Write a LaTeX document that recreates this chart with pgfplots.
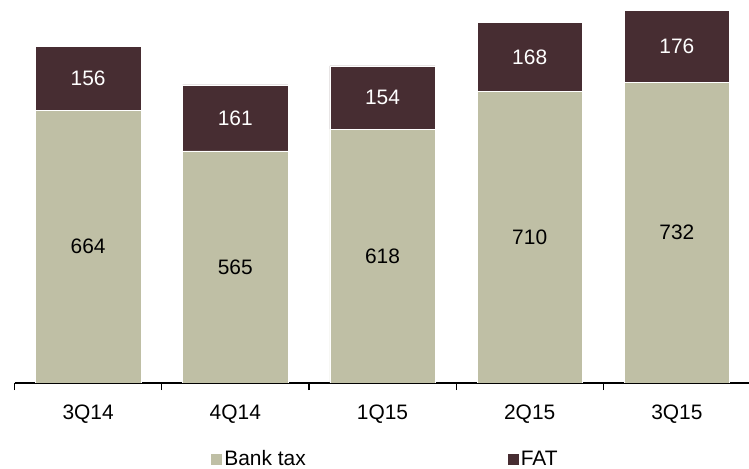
\documentclass[border=0pt]{standalone}
\usepackage{pgfplots}
\pgfplotsset{compat=1.18}
\usepackage{fontspec}
\setmainfont{Liberation Sans}
\definecolor{banktax}{RGB}{191,191,165}
\definecolor{fat}{RGB}{71,45,50}
\begin{document}
\begin{tikzpicture}[font=\fontsize{21}{25}\selectfont]
\path[use as bounding box] (0,0) rectangle (749bp,469bp);
\begin{axis}[
  at={(14.5bp,86bp)}, anchor=south west,
  width=736bp, height=382bp, scale only axis,
  ybar stacked, bar width=0.716,
  xmin=-0.5, xmax=4.5, ymin=0, ymax=930,
  axis y line=none, axis x line*=bottom,
  xtick={0,...,4}, xticklabels={3Q14,4Q14,1Q15,2Q15,3Q15},
  major tick length=0pt,
  minor xtick={-0.5,0.5,1.5,2.5,3.5,4.5},
  minor tick length=7bp, tick align=outside,
  tick style={black, line width=1.2bp},
  minor tick style={black, line width=1.2bp},
  axis line style={black, line width=1.2bp},
  xticklabel style={font=\fontsize{21}{25}\selectfont, yshift=-18bp},
  legend columns=2,
  legend style={draw=none, fill=none, at={(axis description cs:0.5,0)}, anchor=center,
    xshift=3bp, yshift=-76bp, font=\fontsize{21}{25}\selectfont,
    nodes={inner sep=2bp},
    /tikz/every even column/.append style={column sep=200bp}},
  legend image code/.code={\path[#1, draw=none] (0bp,-5.5bp) rectangle (11bp,5.5bp);},
]
\addplot[fill=banktax, draw=white, line width=0.5bp] coordinates {(0,664) (1,565) (2,618) (3,710) (4,732)};
\addplot[fill=fat, draw=white, line width=0.5bp] coordinates {(0,156) (1,161) (2,154) (3,168) (4,176)};
\legend{Bank tax, FAT}
\end{axis}
\begin{axis}[
  at={(14.5bp,86bp)}, anchor=south west,
  width=736bp, height=382bp, scale only axis,
  xmin=-0.5, xmax=4.5, ymin=0, ymax=930,
  hide axis, clip=false,
]
\addplot[draw=none, mark=none, nodes near coords, point meta=explicit symbolic,
  nodes near coords style={anchor=center, text=black, font=\fontsize{21}{25}\selectfont}]
  coordinates {(0,332) [664] (1,282.5) [565] (2,309) [618] (3,355) [710] (4,366) [732]};
\addplot[draw=none, mark=none, nodes near coords, point meta=explicit symbolic,
  nodes near coords style={anchor=center, text=white, font=\fontsize{21}{25}\selectfont}]
  coordinates {(0,742) [156] (1,645.5) [161] (2,695) [154] (3,794) [168] (4,820) [176]};
\end{axis}
\end{tikzpicture}
\end{document}
